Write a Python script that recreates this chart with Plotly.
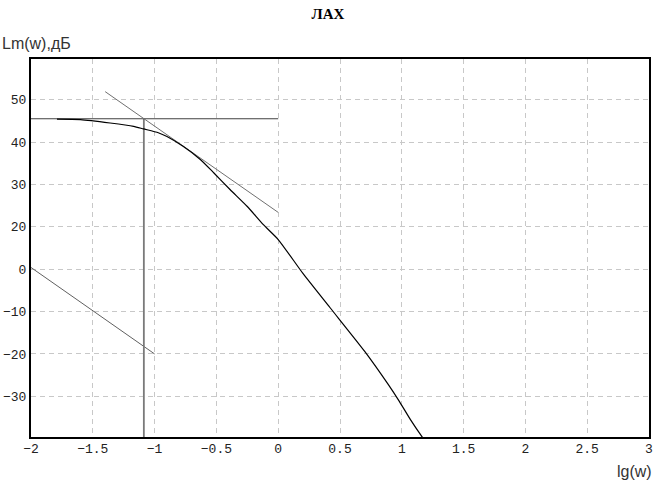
import plotly.graph_objects as go

# ---- data ----
curve_x = [-1.79, -1.6, -1.36, -1.17, -1.09, -0.97, -0.90, -0.77, -0.63, -0.52, -0.39,
           -0.25, -0.12, 0.0, 0.2, 0.42, 0.70, 0.89, 0.98, 1.07, 1.16, 1.18]
curve_y = [45.4, 45.3, 44.5, 43.7, 43.1, 42.2, 41.3, 39.0, 35.9, 32.7, 28.8,
           24.8, 20.5, 17.0, 9.0, 0.9, -9.4, -17.2, -21.2, -25.5, -29.4, -30.2]

hline_x = [-2.0, 0.0]
hline_y = [45.5, 45.5]

asym_x = [-1.4, 0.0]
asym_y = [51.9, 23.4]

vline_x = [-1.087, -1.087]
vline_y = [45.5, -31.0]

low_x = [-2.0, -1.0]
low_y = [10.4, -10.0]

y_tickvals = [50, 40, 30, 20, 10, 0, -10, -20]
y_ticktext = ["50", "40", "30", "20", "0", "\u221210", "\u221220", "\u221230"]

title_text = "ЛАХ"
y_title = "Lm(w),дБ"
x_title = "lg(w)"

fig = go.Figure()
fig.add_trace(go.Scatter(x=low_x, y=low_y, mode="lines",
                         line=dict(color="#606060", width=1)))
fig.add_trace(go.Scatter(x=vline_x, y=vline_y, mode="lines",
                         line=dict(color="#7a7a7a", width=1.8)))
fig.add_trace(go.Scatter(x=hline_x, y=hline_y, mode="lines",
                         line=dict(color="#404040", width=1.2)))
fig.add_trace(go.Scatter(x=asym_x, y=asym_y, mode="lines",
                         line=dict(color="#707070", width=1)))
fig.add_trace(go.Scatter(x=curve_x, y=curve_y, mode="lines",
                         line=dict(color="#000000", width=1.2, shape="spline", smoothing=0.6)))

tick_font = dict(family="Liberation Mono, DejaVu Sans Mono, monospace", size=13, color="#222222")

PL, PR, PT, PB = 31, 7, 59, 43
PW = 656 - PL - PR
PH = 480 - PT - PB

fig.update_layout(
    width=656, height=480,
    margin=dict(l=PL, r=PR, t=PT, b=PB, autoexpand=False),
    paper_bgcolor="white", plot_bgcolor="white",
    showlegend=False, hovermode=False,
    title=dict(text=title_text, x=0.5, xref="container", xanchor="center",
               y=1 - 14 / 480, yref="container", yanchor="middle",
               font=dict(family="Liberation Serif, Times New Roman, serif", size=15,
                         color="#000000", weight="bold")),
    xaxis=dict(range=[-2, 3], dtick=0.5, tick0=-2, showgrid=True, automargin=False,
               gridcolor="#c8c8c8", gridwidth=1, griddash="5px,4px",
               showline=True, linecolor="#000000", linewidth=2, mirror=True,
               ticks="", zeroline=False, tickfont=tick_font, ticklabelstandoff=-2),
    yaxis=dict(range=[-29.6, 59.6], tickvals=y_tickvals, ticktext=y_ticktext,
               automargin=False,
               showgrid=True, gridcolor="#c8c8c8", gridwidth=1, griddash="5px,4px",
               showline=True, linecolor="#000000", linewidth=2, mirror=True,
               ticks="", zeroline=False, tickfont=tick_font),
    annotations=[
        dict(text=y_title, x=-PL / PW, y=(480 - 44 - PB) / PH, xref="paper", yref="paper",
             xanchor="left", yanchor="middle", showarrow=False,
             font=dict(family="Liberation Sans, Arial, sans-serif", size=16, color="#333333")),
        dict(text=x_title, x=(654 - PL) / PW, y=(480 - 471 - PB) / PH, xref="paper", yref="paper",
             xanchor="right", yanchor="middle", showarrow=False,
             font=dict(family="Liberation Sans, Arial, sans-serif", size=16, color="#333333")),
    ],
)

fig.write_html(
    "out.html",
    config={"displayModeBar": False},
    post_script="document.body.style.margin='0px';document.body.style.overflow='hidden';",
)
